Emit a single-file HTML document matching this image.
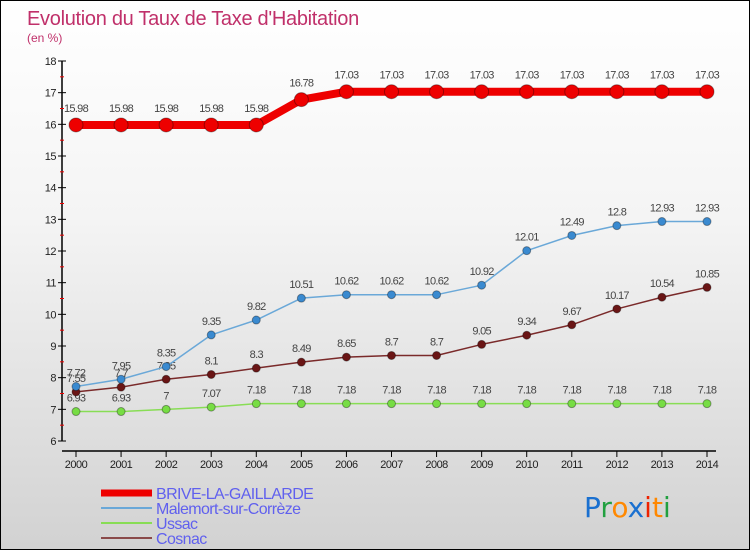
<!DOCTYPE html>
<html><head><meta charset="utf-8"><style>
body{margin:0;}
#c{width:750px;height:550px;position:relative;box-sizing:border-box;border:1px solid #000;background:linear-gradient(#fff 0%,#f4f4f4 40%,#d2d2d2 100%);font-family:"Liberation Sans",sans-serif;overflow:hidden}
</style></head><body>
<div id="c">
<svg id="s" width="750" height="550" style="position:absolute;left:0;top:0">
<text x="26" y="24" font-size="20" fill="#c0306a" letter-spacing="-0.3">Evolution du Taux de Taxe d'Habitation</text>
<text x="26" y="41" font-size="12" fill="#c0306a">(en %)</text>
</svg>
</div>
<script>
const years=[2000,2001,2002,2003,2004,2005,2006,2007,2008,2009,2010,2011,2012,2013,2014];
const brive=[15.98,15.98,15.98,15.98,15.98,16.78,17.03,17.03,17.03,17.03,17.03,17.03,17.03,17.03,17.03];
const malemort=[7.72,7.95,8.35,9.35,9.82,10.51,10.62,10.62,10.62,10.92,12.01,12.49,12.8,12.93,12.93];
const ussac=[6.93,6.93,7,7.07,7.18,7.18,7.18,7.18,7.18,7.18,7.18,7.18,7.18,7.18,7.18];
const cosnac=[7.55,7.7,7.95,8.1,8.3,8.49,8.65,8.7,8.7,9.05,9.34,9.67,10.17,10.54,10.85];
const yTicks=[6,7,8,9,10,11,12,13,14,15,16,17,18];
const NS="http://www.w3.org/2000/svg",s=document.getElementById('s');
const X=i=>75+i*(706-75)/(years.length-1);
const Y=v=>440-(v-6)*(380/12);
function el(t,a,p){const e=document.createElementNS(NS,t);for(const k in a)e.setAttribute(k,a[k]);(p||s).appendChild(e);return e;}
let ax=el('line',{x1:61,y1:60,x2:61,y2:440,stroke:'#000','stroke-width':1.5});


let xa=el('line',{x1:61,y1:450,x2:715,y2:450,stroke:'#000','stroke-width':1.5});


yTicks.forEach((v,i)=>{
 el('line',{x1:57,y1:Y(v),x2:65,y2:Y(v),stroke:'#000'});
 if(i<yTicks.length-1)el('line',{x1:59,y1:Y(v+0.5),x2:63,y2:Y(v+0.5),stroke:'#e00'});
 const t=el('text',{x:55,y:Y(v)+4,'font-size':11,'text-anchor':'end',fill:'#222','letter-spacing':'-0.5'});t.textContent=v;
 
 
});
years.forEach((y,i)=>{
 el('line',{x1:X(i),y1:450,x2:X(i),y2:456,stroke:'#000'});
 const t=el('text',{x:X(i),y:467,'font-size':11,'text-anchor':'middle',fill:'#222','letter-spacing':'-0.5'});t.textContent=y;
 
 
});
function series(d,col,w,r,name,fill){
 const g=el('g',{});
 
 
 el('polyline',{points:d.map((v,i)=>X(i)+','+Y(v)).join(' '),fill:'none',stroke:col,'stroke-width':w,'stroke-linejoin':'round'},g);
 d.forEach((v,i)=>{
  const c=el('circle',{cx:X(i),cy:Y(v),r:r,fill:fill,stroke:'rgba(0,0,0,0.35)','stroke-width':1},g);
  
  
  const t=el('text',{x:X(i),y:Y(v)-(r+6),'font-size':11,'text-anchor':'middle',fill:'#444','letter-spacing':'-0.7'},g);t.textContent=v;
 });
}
series(ussac,'#88dd55',1.5,4,'ussac-series','#77dd44');
series(cosnac,'#7a2a2a',1.5,4,'cosnac-series','#6a1515');
series(malemort,'#6aa8d8',1.5,4,'malemort-series','#3a8ad0');
series(brive,'#ee0000',8,7,'brive-series','#ee0000');
const leg=[['BRIVE-LA-GAILLARDE','#ee0000',7],['Malemort-sur-Corrèze','#6aa8d8',2],['Ussac','#88dd55',2],['Cosnac','#8a4a4a',2]];
leg.forEach((l,i)=>{
 const g=el('g',{});
 
 
 const y=492+i*15;
 el('line',{x1:100,y1:y,x2:151,y2:y,stroke:l[1],'stroke-width':l[2]},g);
 const t=el('text',{x:155,y:y+6,'font-size':16,fill:'#6060ee','letter-spacing':'-0.6'},g);t.textContent=l[0];
});
const lg=el('text',{x:583,y:516,'font-size':28,'font-family':'DejaVu Sans, sans-serif'});


[['P','#1a70d0'],['r','#22a040'],['o','#ff8800'],['x','#1a70d0'],['i','#ee2200'],['t','#ff8800'],['i','#22a040']].forEach(p=>{const ts=el('tspan',{fill:p[1]},lg);ts.textContent=p[0];});
</script>
</body></html>
